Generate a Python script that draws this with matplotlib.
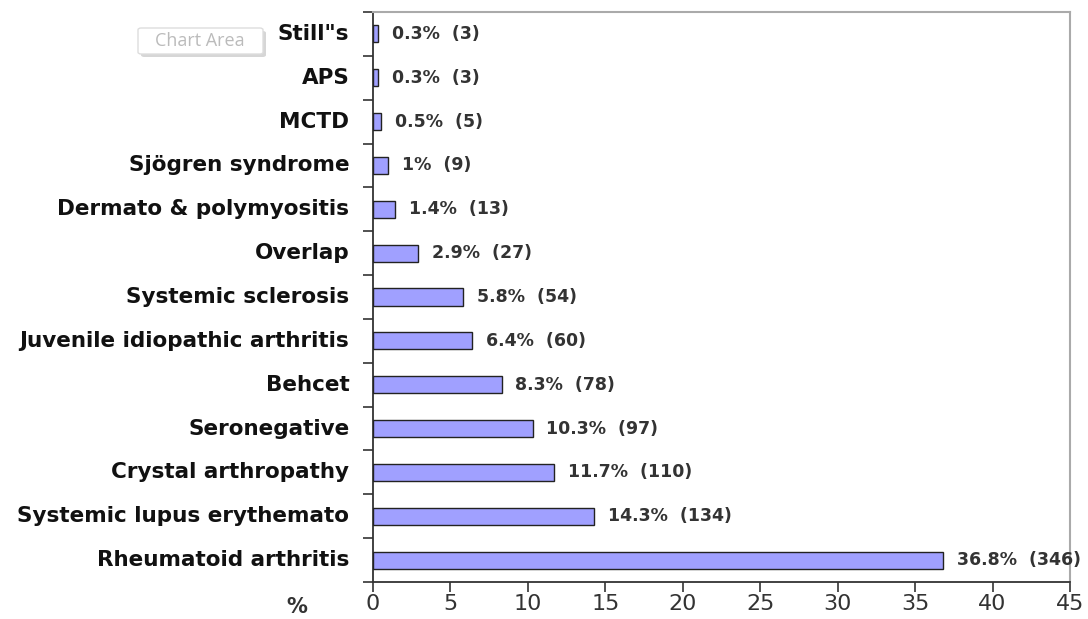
import matplotlib
matplotlib.use("Agg")
import matplotlib.pyplot as plt
import numpy as np
from matplotlib.patches import FancyBboxPatch

plt.rcParams['font.family'] = ['DejaVu Sans']

categories = ["Rheumatoid arthritis", "Systemic lupus erythemato", "Crystal arthropathy",
              "Seronegative", "Behcet", "Juvenile idiopathic arthritis", "Systemic sclerosis",
              "Overlap", "Dermato & polymyositis", "Sjögren syndrome", "MCTD", "APS", 'Still"s']
percents = [36.8, 14.3, 11.7, 10.3, 8.3, 6.4, 5.8, 2.9, 1.4, 1, 0.5, 0.3, 0.3]
counts = [346, 134, 110, 97, 78, 60, 54, 27, 13, 9, 5, 3, 3]
xticks = [0, 5, 10, 15, 20, 25, 30, 35, 40, 45]

fig = plt.figure(figsize=(10.88, 6.19), dpi=100)
ax = fig.add_axes([373/1088, 1-582/619, (1070-373)/1088, (582-12)/619])

y = np.arange(len(categories))
ax.barh(y, percents, height=0.39, color="#A0A0FF", edgecolor="#222222", linewidth=1.0, zorder=3)

for yi, p, n in zip(y, percents, counts):
    ax.annotate(f"{p:g}%  ({n})", xy=(p, yi), xytext=(10, 0), textcoords="offset points",
                va="center", ha="left", fontsize=12.5, fontweight="bold", color="#333333",
                annotation_clip=False, clip_on=False)

ax.set_xlim(0, 45)
ax.set_ylim(-0.5, len(categories) - 0.5)
ax.set_xticks(xticks)
ax.set_xticklabels([str(t) for t in xticks], fontsize=16, color="#333333")
ax.set_yticks(y)
ax.set_yticklabels(categories, fontsize=15.5, fontweight="bold", color="#111111", va="center")
ax.set_yticks(np.arange(-0.5, len(categories), 1), minor=True)
ax.tick_params(axis="y", which="major", length=0, pad=17)
ax.tick_params(axis="y", which="minor", length=7, width=1.2, color="#333333")
ax.tick_params(axis="x", which="major", length=7, width=1.2, color="#333333", pad=2)

for s in ["left", "bottom"]:
    ax.spines[s].set_color("#333333")
    ax.spines[s].set_linewidth(1.3)
for s in ["top", "right"]:
    ax.spines[s].set_color("#AAAAAA")
    ax.spines[s].set_linewidth(1.5)

fig.text(297/1088, 1-607/619, "%", fontsize=15, fontweight="bold", ha="center", va="center", color="#333333")

# "Chart Area" tooltip
shadow = FancyBboxPatch((141/1088, 1-57/619), 125/1088, 26/619, boxstyle="round,pad=0,rounding_size=0.003",
                        transform=fig.transFigure, facecolor="#BBBBBB", edgecolor="none", alpha=0.6)
box = FancyBboxPatch((138/1088, 1-54/619), 125/1088, 26/619, boxstyle="round,pad=0,rounding_size=0.003",
                     transform=fig.transFigure, facecolor="white", edgecolor="#DDDDDD", linewidth=1)
fig.patches.extend([shadow, box])
fig.text(200/1088, 1-41/619, "Chart Area", fontsize=13, ha="center", va="center", color="#BBBBBB",
         family=["Open Sans", "DejaVu Sans"])

fig.savefig("out.png", dpi=100)
